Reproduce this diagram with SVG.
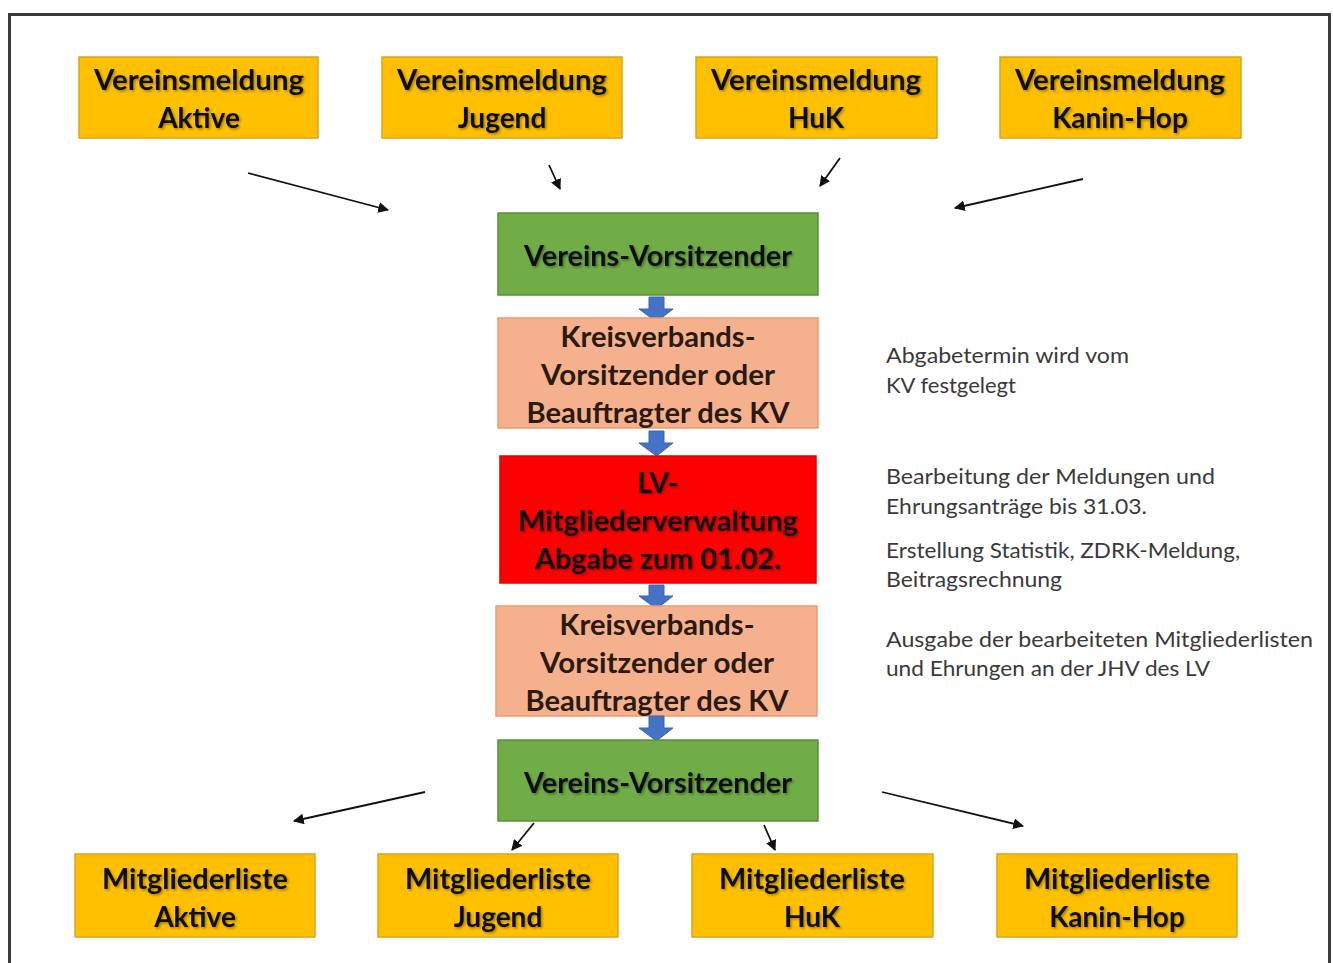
<svg xmlns="http://www.w3.org/2000/svg" width="1333" height="963" viewBox="0 0 1333 963">
<style>
.y{fill:#FFC000;stroke:#D9A520;stroke-width:1.5}
.g{fill:#70AD47;stroke:#5A8F37;stroke-width:1.5}
.s{fill:#F5B18E;stroke:#EE9A6E;stroke-width:1.5}
.r{fill:#FF0000;stroke:#E60000;stroke-width:1.5}
.t{font-family:Lato,"Liberation Sans",sans-serif;font-weight:bold;font-size:28px;fill:#111;text-anchor:middle}
.k{font-family:Lato,"Liberation Sans",sans-serif;font-weight:bold;font-size:28px;fill:#2a1a10;text-anchor:middle}
.n{font-family:Lato,"Liberation Sans",sans-serif;font-size:21.5px;fill:#3a3a3a}
.c{stroke:#111;stroke-width:1.8;fill:none;marker-end:url(#ah)}
.b{fill:#4472C4;stroke:#3A65B5;stroke-width:1}
</style>
<defs>
<marker id="ah" viewBox="0 0 10 10" refX="9" refY="5" markerWidth="6" markerHeight="6" orient="auto" markerUnits="strokeWidth">
<path d="M0,0 L10,5 L0,10 z" fill="#111"/>
</marker>
<filter id="sh" x="-5%" y="-20%" width="110%" height="140%">
<feDropShadow dx="1.5" dy="1.5" stdDeviation="1" flood-color="#000" flood-opacity="0.35"/>
</filter>
</defs>
<rect width="1333" height="963" fill="#ffffff"/>
<rect x="9.5" y="14.5" width="1320" height="1000" fill="#ffffff" stroke="#3b3b3b" stroke-width="3"/>

<g id="connectors">
<line class="c" x1="248" y1="173" x2="388" y2="210"/>
<line class="c" x1="549" y1="165" x2="560" y2="189"/>
<line class="c" x1="840" y1="158" x2="820" y2="186"/>
<line class="c" x1="1083" y1="179" x2="955" y2="208"/>
<line class="c" x1="425" y1="792" x2="294" y2="821"/>
<line class="c" x1="534" y1="823" x2="512" y2="850"/>
<line class="c" x1="764" y1="825" x2="775" y2="850"/>
<line class="c" x1="882" y1="792" x2="1023" y2="826"/>
</g>

<g id="vm-aktive">
<rect class="y" x="79" y="57" width="239" height="81"/>
<text class="t" filter="url(#sh)"><tspan x="199" y="90" textLength="210" lengthAdjust="spacingAndGlyphs">Vereinsmeldung</tspan><tspan x="199" y="128">Aktive</tspan></text>
</g>
<g id="vm-jugend">
<rect class="y" x="382" y="57" width="240" height="81"/>
<text class="t" filter="url(#sh)"><tspan x="502" y="90" textLength="210" lengthAdjust="spacingAndGlyphs">Vereinsmeldung</tspan><tspan x="502" y="128">Jugend</tspan></text>
</g>
<g id="vm-huk">
<rect class="y" x="696" y="57" width="241" height="81"/>
<text class="t" filter="url(#sh)"><tspan x="816" y="90" textLength="210" lengthAdjust="spacingAndGlyphs">Vereinsmeldung</tspan><tspan x="816" y="128">HuK</tspan></text>
</g>
<g id="vm-kanin">
<rect class="y" x="1000" y="57" width="241" height="81"/>
<text class="t" filter="url(#sh)"><tspan x="1120" y="90" textLength="210" lengthAdjust="spacingAndGlyphs">Vereinsmeldung</tspan><tspan x="1120" y="128">Kanin-Hop</tspan></text>
</g>

<g id="vv-top">
<rect class="g" x="498" y="213" width="320" height="82"/>
<text class="t" filter="url(#sh)" x="658" y="266" textLength="268" lengthAdjust="spacingAndGlyphs">Vereins-Vorsitzender</text>
</g>
<g id="arrow-1"><path class="b" d="M649,297 H664 V309 H673 L656.5,322 L639,309 H649 Z"/></g>

<g id="kv-top">
<rect class="s" x="498" y="318" width="320" height="110"/>
<text class="k"><tspan x="658" y="347" textLength="195" lengthAdjust="spacingAndGlyphs">Kreisverbands-</tspan><tspan x="658" y="385" textLength="234" lengthAdjust="spacingAndGlyphs">Vorsitzender oder</tspan><tspan x="658" y="423" textLength="263" lengthAdjust="spacingAndGlyphs">Beauftragter des KV</tspan></text>
</g>
<g id="arrow-2"><path class="b" d="M649,431 H664 V443 H673 L656.5,456 L639,443 H649 Z"/></g>

<g id="lv">
<rect class="r" x="500" y="456" width="316" height="127"/>
<text class="t" filter="url(#sh)"><tspan x="658" y="493">LV-</tspan><tspan x="658" y="531" textLength="280" lengthAdjust="spacingAndGlyphs">Mitgliederverwaltung</tspan><tspan x="658" y="569" textLength="246" lengthAdjust="spacingAndGlyphs">Abgabe zum 01.02.</tspan></text>
</g>
<g id="arrow-3"><path class="b" d="M649,585 H664 V596 H673 L656.5,609 L639,596 H649 Z"/></g>

<g id="kv-bottom">
<rect class="s" x="496" y="606" width="321" height="110"/>
<text class="k"><tspan x="657" y="635" textLength="195" lengthAdjust="spacingAndGlyphs">Kreisverbands-</tspan><tspan x="657" y="673" textLength="234" lengthAdjust="spacingAndGlyphs">Vorsitzender oder</tspan><tspan x="657" y="711" textLength="263" lengthAdjust="spacingAndGlyphs">Beauftragter des KV</tspan></text>
</g>
<g id="arrow-4"><path class="b" d="M649,716 H664 V728 H673 L656.5,741 L639,728 H649 Z"/></g>

<g id="vv-bottom">
<rect class="g" x="498" y="740" width="320" height="81"/>
<text class="t" filter="url(#sh)" x="658" y="793" textLength="268" lengthAdjust="spacingAndGlyphs">Vereins-Vorsitzender</text>
</g>

<g id="ml-aktive">
<rect class="y" x="75" y="854" width="240" height="83"/>
<text class="t" filter="url(#sh)"><tspan x="195" y="889" textLength="186" lengthAdjust="spacingAndGlyphs">Mitgliederliste</tspan><tspan x="195" y="927">Aktive</tspan></text>
</g>
<g id="ml-jugend">
<rect class="y" x="378" y="854" width="240" height="83"/>
<text class="t" filter="url(#sh)"><tspan x="498" y="889" textLength="186" lengthAdjust="spacingAndGlyphs">Mitgliederliste</tspan><tspan x="498" y="927">Jugend</tspan></text>
</g>
<g id="ml-huk">
<rect class="y" x="692" y="854" width="241" height="83"/>
<text class="t" filter="url(#sh)"><tspan x="812" y="889" textLength="186" lengthAdjust="spacingAndGlyphs">Mitgliederliste</tspan><tspan x="812" y="927">HuK</tspan></text>
</g>
<g id="ml-kanin">
<rect class="y" x="997" y="854" width="240" height="83"/>
<text class="t" filter="url(#sh)"><tspan x="1117" y="889" textLength="186" lengthAdjust="spacingAndGlyphs">Mitgliederliste</tspan><tspan x="1117" y="927">Kanin-Hop</tspan></text>
</g>

<g id="notes">
<text class="n"><tspan x="886" y="363" textLength="243" lengthAdjust="spacingAndGlyphs">Abgabetermin wird vom</tspan><tspan x="886" y="393" textLength="130" lengthAdjust="spacingAndGlyphs">KV festgelegt</tspan></text>
<text class="n"><tspan x="886" y="484" textLength="329" lengthAdjust="spacingAndGlyphs">Bearbeitung der Meldungen und</tspan><tspan x="886" y="514" textLength="261" lengthAdjust="spacingAndGlyphs">Ehrungsanträge bis 31.03.</tspan></text>
<text class="n"><tspan x="886" y="558" textLength="354" lengthAdjust="spacingAndGlyphs">Erstellung Statistik, ZDRK-Meldung,</tspan><tspan x="886" y="587" textLength="176" lengthAdjust="spacingAndGlyphs">Beitragsrechnung</tspan></text>
<text class="n"><tspan x="886" y="647" textLength="427" lengthAdjust="spacingAndGlyphs">Ausgabe der bearbeiteten Mitgliederlisten</tspan><tspan x="886" y="676" textLength="324" lengthAdjust="spacingAndGlyphs">und Ehrungen an der JHV des LV</tspan></text>
</g>
</svg>
